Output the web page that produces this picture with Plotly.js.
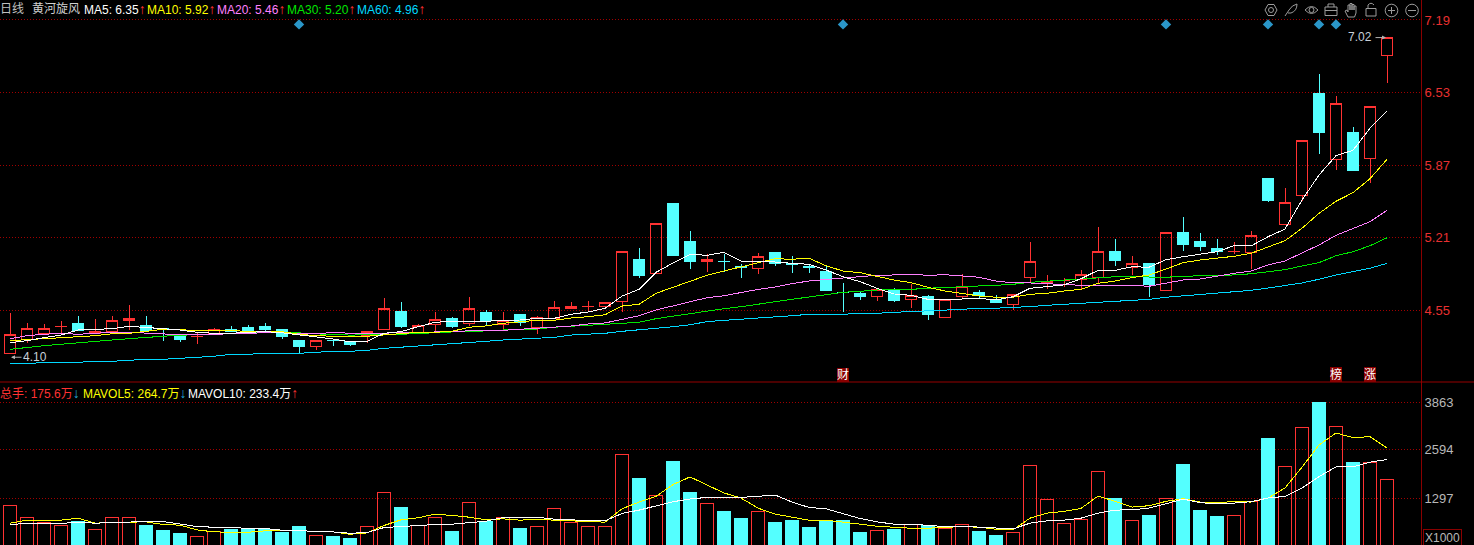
<!DOCTYPE html>
<html>
<head>
<meta charset="utf-8">
<script src="https://cdn.plot.ly/plotly-3.0.1.min.js"></script>
<style>html,body{margin:0;padding:0;background:#000;overflow:hidden}#chart{width:1474px;height:545px}
.scatterlayer .js-line,.boxlayer path,.barlayer path{shape-rendering:crispEdges}</style>
</head>
<body>
<div id="chart"></div>
<script>
const open=[4.15,4.28,4.34,4.40,4.43,4.34,4.35,4.45,4.41,4.38,
4.31,4.31,4.33,4.37,4.39,4.40,4.37,4.27,4.22,4.27,
4.26,4.32,4.37,4.54,4.34,4.42,4.47,4.43,4.53,4.42,
4.51,4.39,4.47,4.56,4.58,4.58,4.63,5.01,4.88,5.52,
5.17,4.99,4.992,4.942,4.93,5.07,4.97,4.942,4.90,4.712,
4.70,4.67,4.74,4.65,4.67,4.48,4.67,4.71,4.65,4.60,
4.85,4.80,4.82,4.83,4.85,5.08,4.94,4.97,4.73,5.26,
5.17,5.11,5.08,5.07,5.75,5.33,5.59,6.52,5.92,6.17,
5.93,6.87];
const high=[4.52,4.43,4.42,4.45,4.50,4.47,4.50,4.60,4.50,4.38,
4.32,4.35,4.39,4.40,4.41,4.43,4.37,4.28,4.28,4.28,
4.27,4.36,4.66,4.62,4.42,4.53,4.49,4.67,4.55,4.53,
4.51,4.50,4.63,4.62,4.63,4.62,5.08,5.11,5.34,5.52,
5.27,5.06,5.06,4.97,5.07,5.07,5.04,4.97,4.95,4.80,
4.72,4.75,4.75,4.79,4.69,4.65,4.88,4.73,4.69,4.69,
5.17,4.87,4.84,4.91,5.31,5.20,5.04,4.97,5.26,5.40,
5.25,5.20,5.17,5.27,5.75,5.66,6.09,6.70,6.50,6.22,
6.40,7.03];
const low=[4.15,4.25,4.32,4.34,4.36,4.33,4.35,4.37,4.35,4.27,
4.26,4.24,4.32,4.35,4.35,4.36,4.29,4.16,4.19,4.22,
4.22,4.25,4.37,4.39,4.34,4.36,4.39,4.40,4.40,4.37,
4.40,4.33,4.47,4.56,4.53,4.58,4.53,4.84,4.88,5.04,
4.92,4.90,4.90,4.84,4.88,4.95,4.89,4.89,4.72,4.53,
4.64,4.63,4.62,4.57,4.46,4.48,4.65,4.66,4.62,4.55,
4.80,4.74,4.76,4.74,4.80,4.95,4.87,4.67,4.73,5.09,
5.09,5.05,5.06,4.92,5.53,5.33,5.54,5.97,5.82,5.82,
5.71,6.62];
const close=[4.33,4.38,4.38,4.402,4.36,4.35,4.45,4.47,4.36,4.37,
4.28,4.312,4.37,4.35,4.35,4.37,4.31,4.22,4.27,4.268,
4.24,4.35,4.56,4.40,4.41,4.46,4.40,4.56,4.45,4.45,
4.44,4.48,4.57,4.58,4.582,4.62,5.08,4.86,5.34,5.05,
4.99,5.01,4.99,4.94,5.04,4.97,4.96,4.94,4.73,4.71,
4.67,4.74,4.64,4.68,4.51,4.65,4.76,4.68,4.62,4.69,
4.99,4.81,4.822,4.87,5.08,5.00,4.97,4.78,5.26,5.15,
5.13,5.08,5.082,5.23,5.55,5.53,6.09,6.17,6.43,5.82,
6.40,7.03];
const ma5=[4.252,4.271,4.298,4.322,4.368,4.371,4.380,4.402,4.393,4.380,
4.368,4.347,4.338,4.338,4.347,4.353,4.343,4.325,4.307,4.286,
4.261,4.265,4.338,4.353,4.398,4.438,4.447,4.447,4.447,4.456,
4.459,4.474,4.474,4.511,4.532,4.565,4.677,4.738,4.893,4.978,
5.057,5.048,5.075,4.996,4.993,4.987,4.975,4.966,4.914,4.853,
4.808,4.748,4.696,4.684,4.647,4.644,4.650,4.657,4.641,4.671,
4.748,4.762,4.778,4.835,4.911,4.911,4.944,4.939,5.008,5.035,
5.060,5.081,5.135,5.133,5.217,5.287,5.551,5.779,5.955,6.004,
6.204,6.359];
const ma10=[4.271,4.277,4.289,4.298,4.307,4.316,4.334,4.338,4.356,4.374,
4.371,4.362,4.362,4.362,4.362,4.356,4.353,4.329,4.316,4.311,
4.307,4.311,4.322,4.332,4.347,4.347,4.356,4.393,4.405,4.429,
4.444,4.456,4.456,4.477,4.489,4.507,4.586,4.602,4.702,4.757,
4.814,4.866,4.905,4.944,4.981,5.017,5.012,5.021,4.953,4.905,
4.890,4.853,4.823,4.799,4.757,4.723,4.702,4.678,4.666,4.666,
4.693,4.702,4.723,4.738,4.793,4.814,4.844,4.869,4.923,4.981,
5.005,5.021,5.039,5.066,5.126,5.181,5.294,5.430,5.540,5.618,
5.745,5.922];
const ma20=[4.289,4.316,4.329,4.338,4.329,4.338,4.347,4.347,4.338,4.329,
4.325,4.329,4.329,4.329,4.334,4.347,4.347,4.332,4.332,4.347,
4.338,4.338,4.338,4.347,4.343,4.350,4.356,4.362,4.365,4.365,
4.374,4.386,4.395,4.404,4.423,4.432,4.465,4.498,4.550,4.589,
4.626,4.662,4.680,4.708,4.738,4.759,4.790,4.814,4.830,4.841,
4.853,4.866,4.869,4.875,4.866,4.871,4.860,4.848,4.814,4.796,
4.796,4.787,4.780,4.775,4.775,4.775,4.775,4.766,4.793,4.823,
4.832,4.860,4.884,4.905,4.960,4.996,5.072,5.142,5.230,5.294,
5.354,5.458];
const ma30=[4.192,4.210,4.225,4.238,4.252,4.268,4.277,4.289,4.302,4.311,
4.320,4.329,4.332,4.334,4.343,4.347,4.350,4.341,4.334,4.325,
4.322,4.322,4.325,4.329,4.338,4.343,4.350,4.352,4.362,4.368,
4.374,4.377,4.393,4.402,4.411,4.420,4.429,4.438,4.471,4.495,
4.516,4.541,4.562,4.580,4.605,4.629,4.648,4.668,4.687,4.711,
4.720,4.732,4.735,4.738,4.748,4.757,4.766,4.769,4.775,4.784,
4.802,4.811,4.820,4.832,4.844,4.853,4.853,4.853,4.848,4.857,
4.860,4.860,4.869,4.880,4.899,4.917,4.951,4.981,5.044,5.081,
5.135,5.208];
const ma60=[4.065,4.065,4.070,4.070,4.074,4.083,4.083,4.092,4.101,4.101,
4.110,4.120,4.129,4.147,4.147,4.156,4.156,4.156,4.165,4.174,
4.174,4.183,4.201,4.211,4.222,4.231,4.240,4.250,4.265,4.277,
4.283,4.292,4.301,4.322,4.329,4.338,4.356,4.368,4.380,4.398,
4.416,4.444,4.456,4.465,4.475,4.484,4.498,4.511,4.511,4.511,
4.520,4.520,4.529,4.535,4.541,4.547,4.556,4.566,4.566,4.575,
4.580,4.593,4.602,4.611,4.620,4.629,4.638,4.647,4.666,4.678,
4.693,4.708,4.717,4.729,4.750,4.771,4.796,4.830,4.869,4.899,
4.930,4.975];
const volume=[1108,783,637,566,664,458,783,783,547,412,
331,268,404,439,439,439,358,520,295,249,
195,539,1434,1035,556,783,385,1190,656,783,
466,539,1027,648,539,539,2463,1821,1379,2282,
1442,1163,927,737,946,629,683,493,702,683,
358,431,439,583,566,485,593,385,276,377,
2165,1271,610,729,2003,1279,702,818,1298,2200,
954,791,837,1206,2905,2138,3195,3881,3222,2255,
2247,1786];
const mavol5=[620,701,701,701,755,620,638,656,656,584,
566,439,385,376,376,412,421,421,394,385,
322,358,557,710,764,864,828,782,710,737,
701,728,701,683,647,647,1008,1189,1342,1659,
1866,1659,1433,1297,1026,864,782,701,701,656,
593,538,511,484,484,502,529,511,457,439,
755,891,936,1017,1351,1207,1053,1090,1207,1279,
1189,1180,1198,1189,1297,1568,2128,2725,3050,2923,
2950,2647];
const mavol10=[593,611,611,611,647,620,638,656,665,665,
593,529,511,511,475,475,430,430,385,385,
349,367,502,529,566,584,593,638,674,773,
773,782,728,701,692,683,882,972,1089,1198,
1270,1315,1315,1315,1342,1379,1189,1044,1008,882,
746,656,593,593,556,529,538,511,475,466,
620,683,701,755,891,972,981,1026,1144,1270,
1171,1144,1162,1198,1297,1342,1568,1875,2137,2137,
2264,2334];
const priceTicks=[7.19,6.53,5.87,5.21,4.55];
const volumeTicks=[3863,2594,1297];
const volumeTickText=['3863','2594','1297'];
const eventIndex=[17,49,68,74,77,78];
const eventPrice=[7.15,7.15,7.15,7.15,7.15,7.15];

const W=1474,H=545;
const idx=close.map((_,i)=>i);
const RED='#ff3232',CYAN='#54ffff',GRID='#a00000',AXIS='#8a0000';
const FONT='"Liberation Sans","Noto Sans CJK SC",Arial,sans-serif';
const px=x=>x/W, py=y=>1-y/H;

function maTrace(values,color,xa,ya){
  return {type:'scatter',mode:'lines',x:idx,y:values,xaxis:xa,yaxis:ya,hoverinfo:'skip',
    line:{color:color,width:1},showlegend:false};
}
const isUp=idx.map(i=>close[i]>=open[i]);
const traces=[
 {type:'candlestick',x:idx,open:open,high:high,low:low,close:close,xaxis:'x',yaxis:'y',hoverinfo:'skip',showlegend:false,
  whiskerwidth:0,
  increasing:{line:{color:RED,width:1},fillcolor:'rgba(0,0,0,0)'},
  decreasing:{line:{color:CYAN,width:1},fillcolor:CYAN}},
 maTrace(ma60,'#00d8ff','x','y'),
 maTrace(ma30,'#00e600','x','y'),
 maTrace(ma20,'#ff80ff','x','y'),
 maTrace(ma10,'#ffff00','x','y'),
 maTrace(ma5,'#ffffff','x','y'),
 {type:'scatter',mode:'markers',x:eventIndex,y:eventPrice,xaxis:'x',yaxis:'y',hoverinfo:'skip',showlegend:false,
  marker:{symbol:'diamond',size:8,color:'#2a96c8'}},
 {type:'bar',x:idx,y:volume,xaxis:'x2',yaxis:'y2',hoverinfo:'skip',showlegend:false,width:0.72,
  marker:{color:isUp.map(u=>u?'rgba(0,0,0,0)':CYAN),line:{color:isUp.map(u=>u?RED:CYAN),width:1}}},
 maTrace(mavol5,'#ffff00','x2','y2'),
 maTrace(mavol10,'#ffffff','x2','y2')
];

function label(x,y,text,color,extra){
  return Object.assign({xref:'paper',yref:'paper',x:px(x),y:py(y),text:text,showarrow:false,xanchor:'left',yanchor:'middle',
    font:{family:FONT,size:12,color:color},borderpad:0,borderwidth:0},extra||{});
}
const ARROW='font-size:14px;font-weight:bold;';
const up='<span style="'+ARROW+'color:#ff3232">↑</span>';
const dn='<span style="'+ARROW+'color:#22a8d8">↓</span>';
const annotations=[
 label(0,9,'日线','#c0c0c0'),
 label(32,9,'黄河旋风','#d0d0d0'),
 label(84,9,'MA5: 6.35'+up,'#ffffff'),
 label(147,9,'MA10: 5.92'+up,'#ffff00'),
 label(217,9,'MA20: 5.46'+up,'#ff80ff'),
 label(287,9,'MA30: 5.20'+up,'#00e600'),
 label(357,9,'MA60: 4.96'+up,'#00d8ff'),
 label(0,393,'总手: 175.6万'+dn,RED),
 label(83,393,'MAVOL5: 264.7万'+dn,'#ffff00'),
 label(188,393,'MAVOL10: 233.4万'+up,'#ffffff'),
 label(1348,37,'7.02','#c8d0d8'),
 label(23,356.5,'4.10','#c8d0d8'),
 label(837,374.5,'财','#ffffff',{bgcolor:'#8a0000'}),
 label(1330,374.5,'榜','#ffffff',{bgcolor:'#8a0000'}),
 label(1364,374.5,'涨','#ffffff',{bgcolor:'#8a0000'}),
 label(1423,538,'X1000','#b8b8b8',{bordercolor:AXIS,borderwidth:1,borderpad:1}),
 {xref:'x',yref:'y',x:81,y:7.03,ax:-13,ay:0,text:'',showarrow:true,arrowhead:2,arrowsize:0.8,arrowwidth:1,arrowcolor:'#b0b0b0',standoff:1},
 {xref:'x',yref:'y',x:0,y:4.12,ax:13,ay:0,text:'',showarrow:true,arrowhead:2,arrowsize:0.8,arrowwidth:1,arrowcolor:'#b0b0b0',standoff:1}
];

const ICON='#9c9c9c';
function pth(segs){ // icon outlines in page pixels
  let s='';
  segs.forEach(g=>{s+=g[0]+g.slice(1).map((v,i)=>i%2?py(v):px(v)).join(',');});
  return s;
}
function iconPath(segs){return {type:'path',xref:'paper',yref:'paper',path:pth(segs),line:{color:ICON,width:1},layer:'above'};}
function iconCircle(cx,cy,r){return {type:'circle',xref:'paper',yref:'paper',x0:px(cx-r),x1:px(cx+r),y0:py(cy+r),y1:py(cy-r),line:{color:ICON,width:1},layer:'above'};}
const shapes=[
 {type:'line',xref:'paper',yref:'paper',x0:0,x1:1,y0:py(382),y1:py(382),line:{color:'#960000',width:1}},
 // gear
 iconCircle(1271,10,2.5),
 iconPath([['M',1268,4.5],['L',1274,4.5],['L',1277,10],['L',1274,15.5],['L',1268,15.5],['L',1265,10],['Z']]),
 // feather
 iconPath([['M',1285,16],['L',1289,10],['Q',1292,5,1297,4],['Q',1297,11,1291,13],['L',1288,13]]),
 // eye
 iconPath([['M',1305,10],['Q',1311.5,3,1318,10],['Q',1311.5,17,1305,10],['Z']]),
 iconCircle(1311.5,10,2.5),
 // toolbox
 iconPath([['M',1325,7],['L',1337,7],['L',1337,15.5],['L',1325,15.5],['Z'],['M',1328,7],['L',1328,4],['L',1334,4],['L',1334,7],['M',1325,10.5],['L',1337,10.5]]),
 // hand
 iconPath([['M',1348,17],['L',1345,11],['L',1347,10],['L',1348,12],['L',1348,5],['L',1350,5],['L',1350,10],['L',1350,3.5],['L',1352,3.5],['L',1352,10],['L',1352,4.5],['L',1354,4.5],['L',1354,10],['L',1354,6],['L',1356,6],['L',1356,13],['L',1354.5,17],['Z']]),
 // lock
 iconPath([['M',1366,8.5],['L',1376,8.5],['L',1376,16],['L',1366,16],['Z'],['M',1368,8.5],['L',1368,5],['Q',1371,1.5,1374,5]]),
 // zoom in
 iconCircle(1391.5,10.5,6.3),
 iconPath([['M',1388,10.5],['L',1395,10.5],['M',1391.5,7],['L',1391.5,14]]),
 // zoom out
 iconCircle(1412,10.5,6.3),
 iconPath([['M',1408,10.5],['L',1416,10.5]])
];

const xRange=[-0.59,83.0];
const layout={
 width:W,height:H,paper_bgcolor:'#000',plot_bgcolor:'#000',showlegend:false,
 margin:{l:0,r:0,t:0,b:0,pad:0,autoexpand:false},
 font:{family:FONT,size:12},
 boxgap:0.05,
 xaxis:{domain:[0,1421/W],range:xRange,visible:false,rangeslider:{visible:false},fixedrange:true,anchor:'y'},
 xaxis2:{domain:[0,1421/W],range:xRange,visible:false,fixedrange:true,anchor:'y2'},
 yaxis:{domain:[py(382),1],range:[7.372-382*0.009103,7.372],side:'right',anchor:'x',tickmode:'array',tickvals:priceTicks,
   ticktext:priceTicks.map(v=>v.toFixed(2)),tickfont:{family:FONT,size:13,color:'#e83030'},
   showgrid:true,gridcolor:GRID,griddash:'1px,2px',gridwidth:1,showline:true,linecolor:AXIS,linewidth:1,ticks:'',zeroline:false,fixedrange:true,ticklen:0},
 yaxis2:{domain:[0,py(382)],range:[32,4423],side:'right',anchor:'x2',tickmode:'array',tickvals:volumeTicks,
   ticktext:volumeTickText,tickfont:{family:FONT,size:13,color:'#b8b8b8'},
   showgrid:true,gridcolor:GRID,griddash:'1px,2px',gridwidth:1,showline:true,linecolor:AXIS,linewidth:1,ticks:'',zeroline:false,fixedrange:true,ticklen:0},
 annotations:annotations,shapes:shapes
};
Plotly.newPlot('chart',traces,layout,{displayModeBar:false,staticPlot:true,responsive:false});
</script>
</body>
</html>
